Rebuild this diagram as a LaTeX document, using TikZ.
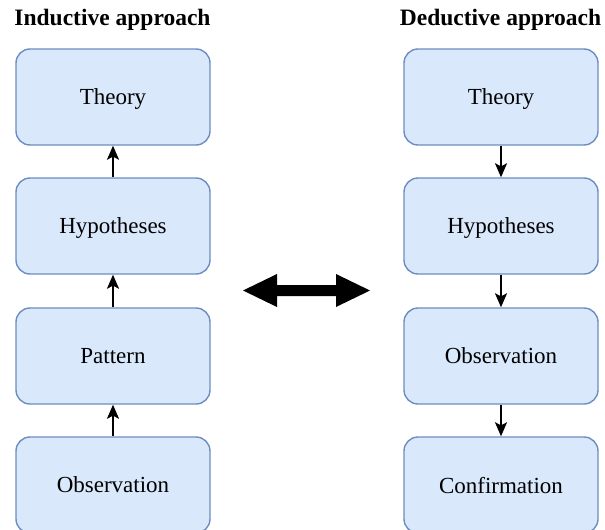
\documentclass[tikz,border=0pt]{standalone}
\usepackage{fontspec}
\setmainfont{Liberation Serif}
\usetikzlibrary{arrows.meta}
\definecolor{boxfill}{HTML}{DAE8FC}
\definecolor{boxline}{HTML}{6C8EBF}
\begin{document}
\begin{tikzpicture}[x=1pt,y=-1pt,
  stepbox/.style={draw=boxline, fill=boxfill, line width=1.4pt, rounded corners=14pt,
    minimum width=194pt, minimum height=96pt, inner sep=0pt, text depth=0pt, font=\fontsize{23}{26}\selectfont},
  title/.style={font=\fontsize{23.5}{26}\selectfont\bfseries, inner sep=0pt},
  conn/.style={line width=1.6pt, -{Stealth[length=14pt,width=12pt,inset=3pt]}}]
\clip (0,0) rectangle (605,530);
\useasboundingbox (0,0) rectangle (605,530);
\node[title] (ti) at (112.5,20) {Inductive approach};
\node[title] (td) at (500.5,20) {Deductive approach};
% inductive
\node[stepbox] (i1) at (113,97) {Theory};
\node[stepbox] (i2) at (113,226) {Hypotheses};
\node[stepbox] (i3) at (113,356) {Pattern};
\node[stepbox] (i4) at (113,485) {Observation};
% deductive
\node[stepbox] (d1) at (501,97) {Theory};
\node[stepbox] (d2) at (501,226) {Hypotheses};
\node[stepbox] (d3) at (501,356) {Observation};
\node[stepbox] (d4) at (501,485) {Confirmation};
\draw[conn] (i2.north) -- (i1.south);
\draw[conn] (i3.north) -- (i2.south);
\draw[conn] (i4.north) -- (i3.south);
\draw[conn] (d1.south) -- (d2.north);
\draw[conn] (d2.south) -- (d3.north);
\draw[conn] (d3.south) -- (d4.north);
% double block arrow
\fill[black] (243,290.5) -- (277,274) -- (277,285) -- (336,285) -- (336,274) -- (370,290.5)
  -- (336,307) -- (336,296) -- (277,296) -- (277,307) -- cycle;
\end{tikzpicture}
\end{document}
